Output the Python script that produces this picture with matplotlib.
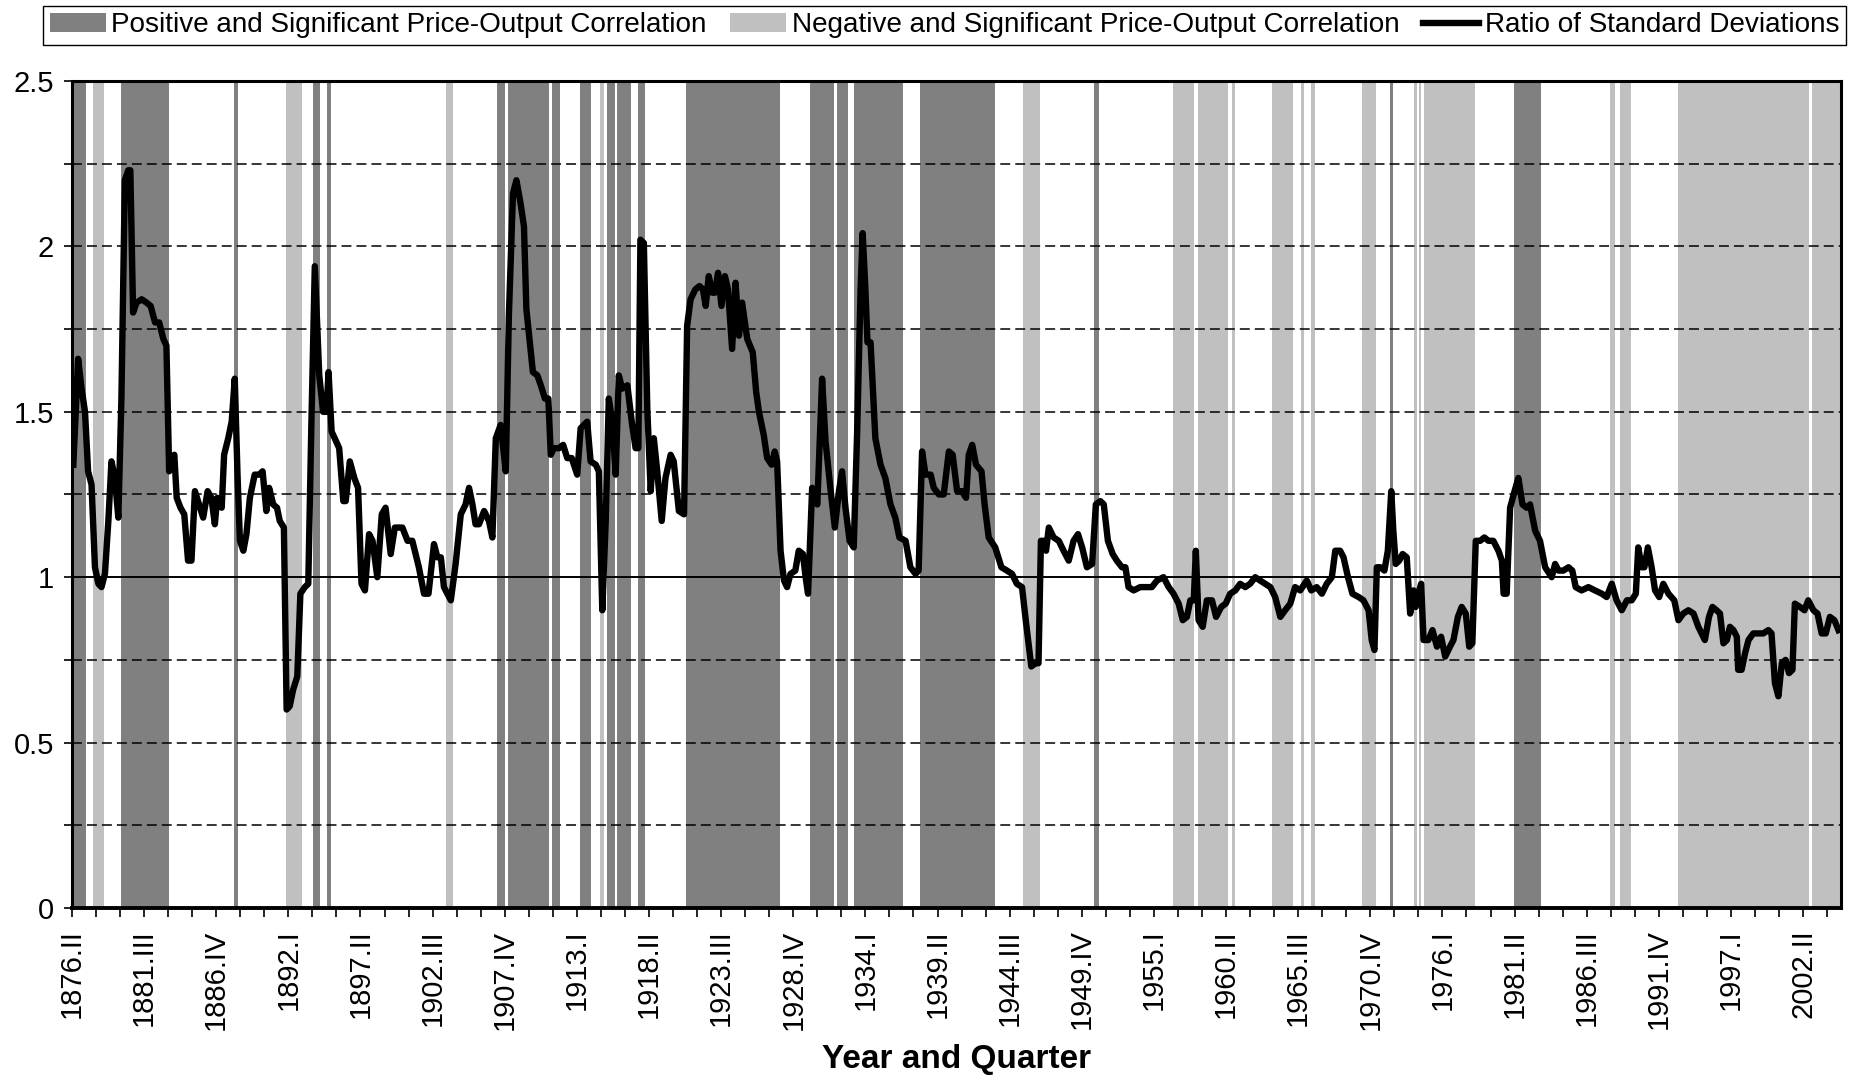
import matplotlib
matplotlib.use("Agg")
import matplotlib.pyplot as plt
from matplotlib.patches import Patch
from matplotlib.lines import Line2D

plt.rcParams['font.family'] = ['Liberation Sans', 'DejaVu Sans']

# quarters counted from 1876.II (0) to 2004.IV (514)
n_quarters = 515
tick_labels = ["1876.II", "1881.III", "1886.IV", "1892.I", "1897.II", "1902.III",
               "1907.IV", "1913.I", "1918.II", "1923.III", "1928.IV", "1934.I",
               "1939.II", "1944.III", "1949.IV", "1955.I", "1960.II", "1965.III",
               "1970.IV", "1976.I", "1981.II", "1986.III", "1991.IV", "1997.I", "2002.II"]

# ratio of standard deviations (quarter position, value)
q = [0.4, 1.8, 2.8, 3.8, 4.7, 5.7, 6.7, 7.7, 8.6, 9.6, 10.6, 11.5, 12.5, 13.5, 14.4,
     15.4, 16.4, 17.0, 17.8, 18.8, 20.3, 21.7, 22.9, 24.2, 25.4, 26.6, 27.5, 28.3, 29.8,
     30.5, 31.6, 32.7, 33.8, 34.8, 35.8, 37.0, 38.2, 39.5, 40.6, 41.6, 42.3, 43.6, 44.3,
     45.5, 46.5, 47.4, 48.2, 48.9, 49.9, 50.8, 51.8, 53.2, 54.5, 55.5, 56.6, 57.4, 58.6,
     59.7, 60.5, 61.7, 62.5, 63.4, 64.4, 65.6, 66.5, 67.8, 68.8, 69.7, 70.7, 72.0, 73.1,
     74.1, 74.7, 75.6, 76.5, 77.8, 79.0, 79.7, 80.9, 82.2, 83.3, 84.3, 85.3,
     86.5, 87.5, 88.9, 90.2, 91.3, 92.8, 94.0, 96.2, 97.7, 99.1, 101.0, 102.5, 103.8,
     105.4, 106.4, 107.4, 108.3, 110.3, 111.7, 113.2, 114.6, 115.6, 116.6, 117.5, 118.5,
     120.0, 121.4, 122.4, 123.4, 124.8, 126.3, 127.2, 128.4, 129.4, 130.6, 131.6, 132.3,
     133.0, 134.2, 135.5, 136.5, 137.7, 138.7, 139.4, 140.3, 141.8, 143.0, 144.2, 145.5,
     147.1, 148.1, 150.0, 151.0, 152.5, 153.4, 154.4, 155.4, 156.3, 157.3, 158.3, 159.2,
     160.2, 161.7, 163.1, 164.1, 164.9, 165.5, 166.5, 167.5, 168.5, 169.4, 170.4, 171.7,
     172.8, 174.3, 175.2, 176.7, 178.2,
     179.1, 180.1, 181.5, 182.7, 183.7, 184.5, 185.4, 186.4, 187.2, 188.1, 189.1, 190.1,
     191.0, 192.2, 193.2, 194.2, 195.1, 196.6, 198.2, 199.2, 200.0, 201.4, 202.4, 203.7,
     204.6, 205.3, 206.3, 207.3, 208.2, 209.2, 210.6, 211.6, 212.8, 213.6, 214.3, 215.5,
     217.0, 218.4, 219.4, 220.8, 222.1, 223.3, 224.2, 225.2, 226.4, 227.6, 228.6, 229.6,
     230.2, 231.0, 231.6, 232.5, 233.9, 235.4, 236.8, 238.3, 239.7, 240.9, 242.7, 244.1,
     245.6, 246.5, 247.5, 248.5, 250.0, 250.9, 252.4, 253.8, 255.3, 256.4, 257.7, 259.1,
     260.3, 261.1, 262.1, 263.2, 264.8, 265.7, 266.9, 268.8,
     270.6, 272.2, 273.7, 275.1, 276.6, 277.8, 279.3, 280.5, 281.4, 282.1, 282.9, 283.6,
     284.4, 285.8, 287.3, 288.7, 290.2, 291.6, 292.9, 294.1, 295.5, 297.0, 298.1, 299.4,
     300.4, 301.6, 303.0, 304.2, 305.7, 306.7, 307.6, 309.1, 311.0, 312.5, 314.4, 315.9,
     317.8, 319.3, 320.7, 322.2, 323.4, 324.6, 325.6, 326.6, 327.2, 328.0, 329.2, 330.4,
     331.9, 333.1, 334.6, 335.9, 337.2, 338.7, 340.1, 341.6, 343.0, 344.5, 345.9, 347.4,
     348.9, 350.3, 351.8, 353.2, 354.7, 356.1, 357.6,
     359.5, 360.8, 362.4, 363.9, 365.3, 366.8, 367.8, 369.2, 370.2, 371.5, 372.8, 374.6,
     376.0, 377.5, 378.4, 379.2, 379.9, 380.9, 382.1, 383.1, 384.1, 384.7, 385.4, 386.4,
     387.4, 388.6, 389.6, 390.6, 391.2, 392.0, 392.8, 393.5, 394.9, 396.1, 397.4, 398.6,
     399.8, 401.2, 402.2, 403.5, 404.6, 405.8, 406.8, 407.7, 408.7, 410.0, 411.2, 412.4,
     413.8, 415.3, 416.3, 416.8, 417.7, 418.7, 420.0, 421.1, 422.3, 423.5, 424.5, 426.0,
     427.4, 428.9, 430.8, 431.8, 432.8, 434.2, 435.7, 436.8, 437.8, 439.5, 441.5,
     443.4, 445.4, 446.8, 448.3, 449.7, 451.2, 452.7, 454.1, 455.3, 456.0, 457.0, 457.8,
     458.8, 459.9, 460.9, 462.1, 463.3, 464.8, 466.5, 467.7, 469.1, 470.6, 472.1, 473.5,
     475.4, 476.6, 477.6, 478.8, 479.8, 480.8, 481.8, 482.7, 483.7, 484.7, 485.1, 486.1,
     487.1, 488.1, 489.5, 491.0, 492.4, 493.9, 494.8, 495.8, 496.8, 497.8, 498.9, 499.9,
     500.9, 501.6, 503.1, 504.4, 505.5, 507.0, 508.2, 509.4, 510.6, 511.8, 513.1, 514.3]

ratio = [1.34, 1.66, 1.57, 1.50, 1.32, 1.28, 1.03, 0.98, 0.97, 1.01, 1.17, 1.35, 1.30, 1.18, 1.54,
         2.20, 2.23, 2.23, 1.80, 1.83, 1.84, 1.83, 1.82, 1.77, 1.77, 1.72, 1.70, 1.32, 1.37,
         1.24, 1.21, 1.19, 1.05, 1.05, 1.26, 1.22, 1.18, 1.26, 1.24, 1.16, 1.24, 1.21, 1.37,
         1.42, 1.47, 1.60, 1.31, 1.11, 1.08, 1.13, 1.24, 1.31, 1.31, 1.32, 1.20, 1.27, 1.22,
         1.21, 1.17, 1.15, 0.60, 0.61, 0.66, 0.70, 0.95, 0.97, 0.98, 1.46, 1.94, 1.61, 1.50,
         1.50, 1.62, 1.44, 1.42, 1.39, 1.23, 1.23, 1.35, 1.30, 1.27, 0.98, 0.96,
         1.13, 1.11, 1.00, 1.19, 1.21, 1.07, 1.15, 1.15, 1.11, 1.11, 1.03, 0.95, 0.95,
         1.10, 1.06, 1.06, 0.97, 0.93, 1.04, 1.19, 1.22, 1.27, 1.22, 1.16, 1.16,
         1.20, 1.17, 1.12, 1.42, 1.46, 1.32, 1.79, 2.16, 2.20, 2.13, 2.06, 1.81,
         1.74, 1.62, 1.61, 1.58, 1.54, 1.54, 1.37, 1.39, 1.39, 1.40, 1.36, 1.36,
         1.31, 1.45, 1.47, 1.35, 1.34, 1.32, 0.90, 1.17, 1.54, 1.47, 1.31, 1.61,
         1.57, 1.58, 1.46, 1.39, 1.39, 2.02, 2.01, 1.51, 1.26, 1.42, 1.32, 1.17,
         1.30, 1.37, 1.35, 1.20, 1.19,
         1.76, 1.84, 1.87, 1.88, 1.87, 1.82, 1.91, 1.86, 1.86, 1.92, 1.82, 1.91,
         1.87, 1.69, 1.89, 1.73, 1.83, 1.72, 1.68, 1.56, 1.50, 1.43, 1.36, 1.34,
         1.38, 1.35, 1.08, 0.99, 0.97, 1.01, 1.02, 1.08, 1.07, 1.00, 0.95, 1.27,
         1.22, 1.60, 1.41, 1.27, 1.15, 1.26, 1.32, 1.21, 1.11, 1.09, 1.44, 1.87,
         2.04, 1.87, 1.71, 1.71, 1.42, 1.34, 1.30, 1.22, 1.18, 1.12, 1.11, 1.03,
         1.01, 1.02, 1.38, 1.31, 1.31, 1.27, 1.25, 1.25, 1.38, 1.37, 1.26, 1.26,
         1.24, 1.37, 1.40, 1.34, 1.32, 1.22, 1.12, 1.09,
         1.03, 1.02, 1.01, 0.98, 0.97, 0.86, 0.73, 0.74, 0.74, 1.11, 1.11, 1.08,
         1.15, 1.12, 1.11, 1.08, 1.05, 1.11, 1.13, 1.09, 1.03, 1.04, 1.22, 1.23,
         1.22, 1.11, 1.07, 1.05, 1.03, 1.03, 0.97, 0.96, 0.97, 0.97, 0.97, 0.99,
         1.00, 0.97, 0.95, 0.92, 0.87, 0.88, 0.93, 0.93, 1.08, 0.87, 0.85, 0.93,
         0.93, 0.88, 0.91, 0.92, 0.95, 0.96, 0.98, 0.97, 0.98, 1.00, 0.99, 0.98,
         0.97, 0.94, 0.88, 0.90, 0.92, 0.97, 0.96,
         0.99, 0.96, 0.97, 0.95, 0.98, 1.00, 1.08, 1.08, 1.06, 1.00, 0.95, 0.94,
         0.93, 0.90, 0.81, 0.78, 1.03, 1.03, 1.02, 1.08, 1.26, 1.14, 1.04, 1.05,
         1.07, 1.06, 0.89, 0.96, 0.91, 0.95, 0.98, 0.81, 0.81, 0.84, 0.79, 0.82,
         0.76, 0.79, 0.81, 0.88, 0.91, 0.89, 0.79, 0.80, 1.11, 1.11, 1.12, 1.11,
         1.11, 1.08, 1.05, 0.95, 0.95, 1.21, 1.26, 1.30, 1.22, 1.21, 1.22, 1.14,
         1.11, 1.03, 1.00, 1.04, 1.02, 1.02, 1.03, 1.02, 0.97, 0.96, 0.97,
         0.96, 0.95, 0.94, 0.98, 0.93, 0.90, 0.93, 0.93, 0.95, 1.09, 1.03, 1.03,
         1.09, 1.03, 0.96, 0.94, 0.98, 0.95, 0.93, 0.87, 0.89, 0.90, 0.89, 0.85,
         0.81, 0.88, 0.91, 0.90, 0.89, 0.80, 0.81, 0.85, 0.84, 0.82, 0.72, 0.72,
         0.77, 0.81, 0.83, 0.83, 0.83, 0.84, 0.83, 0.68, 0.64, 0.74, 0.75, 0.71,
         0.72, 0.92, 0.91, 0.90, 0.93, 0.90, 0.89, 0.83, 0.83, 0.88, 0.87, 0.84]

# periods of significant correlation (start, end in quarters from 1876.II)
positive_periods = [(0.0, 4.2), (14.3, 28.2), (47.2, 48.2), (70.2, 72.2), (74.3, 75.3),
                    (123.8, 126.1), (127.0, 138.9), (139.8, 142.0), (148.0, 151.0),
                    (155.9, 158.1), (158.8, 162.9), (164.9, 166.8), (178.8, 206.1),
                    (214.8, 221.8), (222.8, 225.9), (227.6, 241.9), (246.8, 268.8),
                    (297.7, 298.9), (383.6, 384.7), (419.7, 427.7)]
negative_periods = [(6.2, 9.3), (62.4, 67.1), (109.0, 110.9), (153.7, 154.9), (276.9, 281.7),
                    (320.7, 326.8), (327.8, 336.7), (337.7, 338.7), (349.5, 355.6),
                    (357.7, 358.8), (360.6, 361.8), (375.7, 379.8), (390.8, 391.7),
                    (392.1, 392.9), (393.5, 408.6), (447.9, 449.1), (450.8, 453.9),
                    (467.7, 505.8), (506.6, 515.0)]

grid_levels = [0.25, 0.5, 0.75, 1.25, 1.5, 1.75, 2.0, 2.25]

dark = '#808080'
light = '#c0c0c0'

fig = plt.figure(figsize=(18.64, 10.78), dpi=100)
ax = fig.add_axes([0.0386, 0.1577, 0.949, 0.7672])

for s, e in positive_periods:
    ax.axvspan(s, e, color=dark, lw=0, zorder=1)
for s, e in negative_periods:
    ax.axvspan(s, e, color=light, lw=0, zorder=1)

for lev in grid_levels:
    ax.axhline(lev, color='black', lw=1.1, dashes=(6.5, 3.3), zorder=2)
ax.axhline(1.0, color='black', lw=1.4, zorder=2)

ax.plot(q, ratio, color='black', lw=4.6, solid_joinstyle='round', zorder=3)

ax.set_xlim(0, n_quarters)
ax.set_ylim(0, 2.5)

ax.set_xticks(range(0, n_quarters, 21))
ax.set_xticklabels(tick_labels, rotation=90, fontsize=21)
ax.set_xticks(range(0, n_quarters, 7), minor=True)
ax.tick_params(axis='x', which='both', direction='out', length=6.5, width=1.2, pad=9)

yt = [0, 0.5, 1, 1.5, 2, 2.5]
ax.set_yticks(yt)
ax.set_yticklabels(["0", "0.5", "1", "1.5", "2", "2.5"], fontsize=21)
ax.set_yticks([0.25, 0.75, 1.25, 1.75, 2.25], minor=True)
ax.tick_params(axis='y', which='both', direction='out', length=5.8, width=1.2, pad=7)

for sp in ax.spines.values():
    sp.set_linewidth(2.2)
    sp.set_zorder(4)
ax.spines['bottom'].set_linewidth(2.8)

ax.set_xlabel("Year and Quarter", fontsize=24, fontweight='bold')
ax.xaxis.set_label_coords(0.5, -0.164)

handles = [Patch(facecolor=dark, edgecolor='none'),
           Patch(facecolor=light, edgecolor='none'),
           Line2D([], [], color='black', lw=4.6)]
labels = ["Positive and Significant Price-Output Correlation",
          "Negative and Significant Price-Output Correlation",
          "Ratio of Standard Deviations"]
leg = fig.legend(handles, labels, ncol=3, mode='expand', loc='center',
                 bbox_to_anchor=(43 / 1864, 1 - 45 / 1078, 1803 / 1864, 39 / 1078),
                 fontsize=20.1, handlelength=2.0, handleheight=0.68, handletextpad=0.2,
                 columnspacing=0.3, borderpad=0.25, borderaxespad=0, fancybox=False,
                 framealpha=1, edgecolor='black')
leg.get_frame().set_linewidth(1.0)

fig.savefig("out.png", dpi=100)
